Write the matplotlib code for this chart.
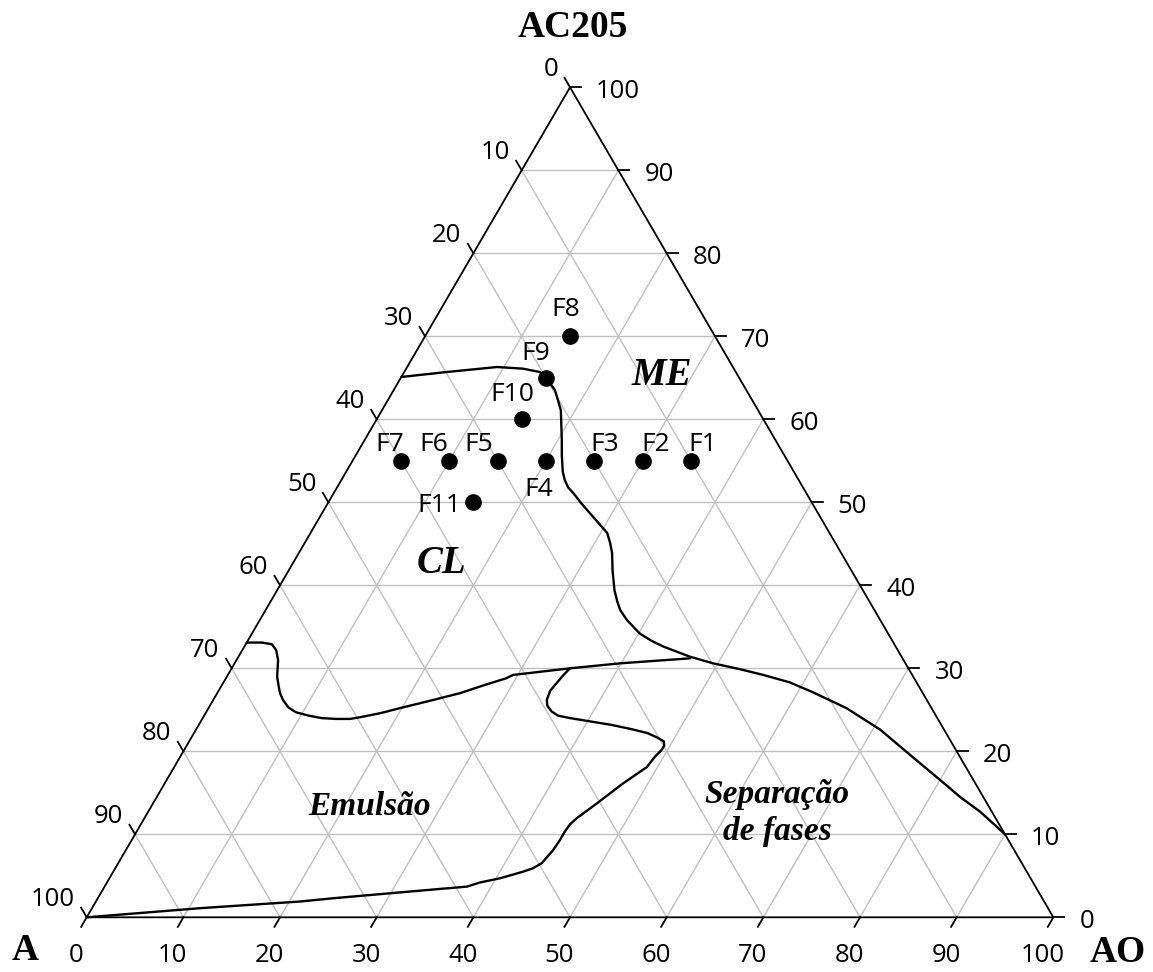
import numpy as np
import matplotlib
matplotlib.use("Agg")
import matplotlib.pyplot as plt

# ternary data: (AO %, AC205 %), water = 100 - AO - AC205
ticks = list(range(0, 101, 10))

pt_names = ["F1", "F2", "F3", "F4", "F5", "F6", "F7", "F8", "F9", "F10", "F11"]
pt_ao = [35, 30, 25, 20, 15, 10, 5, 15, 15, 15, 15]
pt_ac = [55, 55, 55, 55, 55, 55, 55, 70, 65, 60, 50]
# label offsets in pixels (dx, dy)
pt_off = [(12, 16), (13, 16), (10, 16), (-7, -29), (-19, 16), (-15, 16), (-11, 16),
          (-4, 27), (-10, 24), (-9, 25), (-34, -3)]

# ME / CL boundary, continuing down to the AO side
me_ao = [0, 4.4, 9.3, 12.1, 14.0, 14.8, 16.7, 17.6, 18.5, 20.4, 21.3, 22.4, 23.1, 23.9,
         24.8, 26.2, 27.7, 29.2, 30.7, 31.6, 32.4, 33.5, 34.9, 35.9, 36.7, 38.0, 40.1,
         41.8, 43.4, 46.7, 49.5, 52.6, 55.4, 58.6, 61.6, 66.0, 70.8, 75.8, 81.0, 83.1,
         86.1, 90.0]
me_ac = [65.1, 65.7, 66.3, 66.1, 65.7, 65.2, 63.5, 62.3, 61.1, 57.5, 55.7, 53.7, 52.7, 51.8,
         51.1, 49.9, 48.7, 47.5, 46.3, 45.1, 43.9, 41.8, 39.4, 38.0, 37.0, 35.8, 34.2,
         33.3, 32.6, 31.4, 30.6, 29.9, 29.2, 28.3, 27.1, 25.2, 22.6, 19.3, 15.9, 14.5,
         12.7, 10.0]

# CL lower boundary
cl_ao = [46.8, 39.9, 35.0, 29.5, 29.0, 27.2, 25.1, 22.5, 19.8, 18.1, 16.2, 15.3, 13.9, 12.3,
         10.8, 9.3, 8.2, 7.2, 6.5, 5.9, 5.2, 4.3, 3.5, 2.7, 1.6, 0.0]
cl_ac = [31.2, 30.6, 30.0, 29.2, 28.8, 28.0, 27.0, 26.1, 25.2, 24.6, 24.1, 23.9, 23.9, 24.0,
         24.3, 24.7, 25.3, 26.2, 27.0, 27.9, 29.0, 31.0, 32.2, 32.9, 33.1, 33.1]

# emulsion / phase separation boundary
em_ao = [35.0, 34.7, 34.5, 34.3, 34.5, 34.9, 35.7, 36.6, 38.0, 40.3, 42.6, 44.9, 46.9, 48.1,
         49.1, 49.4, 49.4, 49.1, 48.9, 47.4, 45.9, 44.7, 44.4, 44.3, 44.3, 44.2, 43.8,
         43.2, 42.4, 40.4, 38.6, 37.5, 30.9, 24.4, 21.1, 11.2, 0.0]
em_ac = [30.0, 29.1, 28.2, 27.3, 26.2, 25.5, 24.8, 24.3, 24.0, 23.6, 23.2, 22.7, 22.2, 21.7,
         21.2, 20.7, 20.2, 19.3, 18.1, 16.1, 13.7, 11.9, 11.2, 10.3, 9.2, 8.1, 6.5,
         5.9, 5.5, 4.7, 4.2, 3.7, 3.0, 2.3, 1.9, 1.1, 0.0]


def tern(ao, ac):
    ao = np.asarray(ao, float)
    ac = np.asarray(ac, float)
    return ao + ac / 2, ac


fig = plt.figure(figsize=(11.53, 9.72), dpi=100)
ax = fig.add_axes([0, 0, 1, 1])
ax.set_xlim(-8.97, 110.31)
ax.set_ylim(-6.59, 110.52)
ax.axis("off")

grid_kw = dict(color="#c0c0c0", lw=1.0, zorder=1)
for k in range(10, 100, 10):
    # constant AC205
    x, y = tern([0, 100 - k], [k, k])
    ax.plot(x, y, **grid_kw)
    # constant AO
    x, y = tern([k, k], [0, 100 - k])
    ax.plot(x, y, **grid_kw)
    # constant water
    x, y = tern([100 - k, 0], [0, 100 - k])
    ax.plot(x, y, **grid_kw)

# triangle
x, y = tern([0, 100, 0, 0], [0, 0, 100, 0])
ax.plot(x, y, color="black", lw=1.3, zorder=3, solid_joinstyle="miter")

tl = 1.15
sans = ["Open Sans", "DejaVu Sans"]
fs_tick = 18.5
for k in ticks:
    # bottom (AO)
    x, y = tern([k, k], [0, 0])
    ax.plot([x[0], x[0] - tl / 2], [0, -tl], color="black", lw=1.3, zorder=3)
    ax.text(x[0] - 1.1, -4.55, str(k), ha="center", va="center", fontsize=fs_tick, family=sans)
    # right (AC205)
    x, y = tern([100 - k], [k])
    ax.plot([x[0], x[0] + tl], [y[0], y[0]], color="black", lw=1.3, zorder=3)
    ax.text(x[0] + 2.7, y[0] - 0.45, str(k), ha="left", va="center", fontsize=fs_tick, family=sans)
    # left (water)
    x, y = tern([0], [100 - k])
    ax.plot([x[0], x[0] - tl / 2], [y[0], y[0] + tl], color="black", lw=1.3, zorder=3)
    ax.text(x[0] - 1.24, y[0] + 2.2, str(k), ha="right", va="center", fontsize=fs_tick, family=sans)

# phase boundaries
for ao, ac in [(me_ao, me_ac), (cl_ao, cl_ac), (em_ao, em_ac)]:
    x, y = tern(ao, ac)
    ax.plot(x, y, color="black", lw=1.7, zorder=4, solid_joinstyle="round",
            solid_capstyle="round")

# formulations
px, py = tern(pt_ao, pt_ac)
ax.plot(px, py, "o", color="black", ms=11, zorder=5)
for name, xx, yy, off in zip(pt_names, px, py, pt_off):
    ax.annotate(name, (xx, yy), xytext=off, textcoords="offset pixels",
                ha="center", va="center", fontsize=19, family=sans)

# region labels
reg_kw = dict(family="Liberation Serif", style="italic", weight="bold", ha="center", va="baseline")
ax.text(59.5, 64.1, "ME", fontsize=28, **reg_kw)
ax.text(36.7, 41.5, "CL", fontsize=28, **reg_kw)
ax.text(29.3, 12.3, "Emulsão", fontsize=24, **reg_kw)
ax.text(71.4, 13.8, "Separação", fontsize=24, **reg_kw)
ax.text(71.4, 9.3, "de fases", fontsize=24, **reg_kw)

# vertex titles
ttl_kw = dict(family="Liberation Serif", weight="bold", fontsize=27)
fig.text(0.497, 0.9717, "AC205", ha="center", va="center", **ttl_kw)
fig.text(0.0105, 0.0125, "A", ha="left", va="baseline", **ttl_kw)
fig.text(0.945, 0.0105, "AO", ha="left", va="baseline", **ttl_kw)

fig.savefig("out.png", dpi=100)
